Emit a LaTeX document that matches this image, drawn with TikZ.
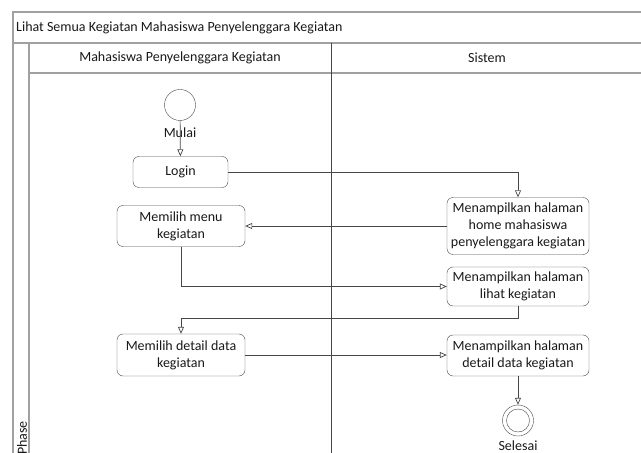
\documentclass[tikz,border=0pt]{standalone}
\usepackage{fontspec}
\setmainfont{Carlito}
\usepackage{xcolor}
\usetikzlibrary{
    shapes.geometric,
    arrows.meta,
    positioning,
    calc
}
\definecolor{umlline}{RGB}{70, 70, 70}
\definecolor{umlframe}{RGB}{160, 160, 160}
\definecolor{umltext}{RGB}{25, 25, 25}

\begin{document}
\begin{tikzpicture}[
        x=1bp, y=-1bp,
        every node/.style={text=umltext, font=\fontsize{14bp}{16.7bp}\selectfont},
        activity/.style={rectangle, draw=umlline, rounded corners=6bp, align=center, inner sep=2bp},
        frameline/.style={draw=umlframe, line width=1.4bp},
        arrow/.style={-{Triangle[open, length=7bp, width=6bp]}, draw=umlline, line width=0.7bp}
    ]
        \useasboundingbox (0,0) rectangle (641,453);
        \clip (0,0) rectangle (641,453);

        % Frame and swimlanes
        \draw[frameline] (13,470) -- (13,12) -- (660,12);
        \draw[frameline] (13,43) -- (660,43);
        \draw[frameline] (29,73) -- (660,73);
        \draw[frameline] (29,43) -- (29,470);
        \draw[draw=umlline, line width=0.8bp] (331.5,43) -- (331.5,470);
        \node[anchor=west, inner sep=0] (title) at (16,28) {Lihat Semua Kegiatan Mahasiswa Penyelenggara Kegiatan};
        \node (lane_mhs) at (180,58) {Mahasiswa Penyelenggara Kegiatan};
        \node (lane_sys) at (487,58) {Sistem};
        \node[rotate=90, anchor=east, inner sep=0] (phase) at (22,421) {Phase};

        % Start
        \node[circle, draw=umlline, minimum size=31bp, inner sep=0] (start) at (180,105) {};
        \node (mulai) at (180,133) {Mulai};

        % Mahasiswa
        \node[activity, minimum width=95bp, minimum height=31bp] (login) at (180.5,172) {Login};
        \node[activity, minimum width=128bp, minimum height=41bp] (menu) at (181,226) {Memilih menu\\kegiatan};
        \node[activity, minimum width=128bp, minimum height=42bp] (pilih_detail) at (181,355) {Memilih detail data\\kegiatan};

        % Sistem
        \node[activity, minimum width=142bp, minimum height=57bp] (home) at (518,226) {Menampilkan halaman\\home mahasiswa\\penyelenggara kegiatan};
        \node[activity, minimum width=142bp, minimum height=39bp] (lihat) at (518,286.5) {Menampilkan halaman\\lihat kegiatan};
        \node[activity, minimum width=142bp, minimum height=41bp] (tampil_detail) at (518,355.5) {Menampilkan halaman\\detail data kegiatan};

        % End
        \node[circle, draw=umlline, minimum size=31bp, inner sep=0] (end) at (518,420.5) {};
        \node[circle, draw=umlline, minimum size=23bp, inner sep=0] (end_in) at (end) {};
        \node (selesai) at (518,446) {Selesai};

        \draw[arrow] (start) -- (login);
        \draw[arrow] (login.east) -| (home.north);
        \draw[arrow] (home.west) -- (menu.east);
        \draw[arrow] (menu.south) |- (lihat.west);
        \draw[arrow] (lihat.south) -- ++(0,12) -| (pilih_detail.north);
        \draw[arrow] (pilih_detail.east) -- (pilih_detail.east -| tampil_detail.west);
        \draw[arrow] (tampil_detail.south) -- (end);
    \end{tikzpicture}
\end{document}
